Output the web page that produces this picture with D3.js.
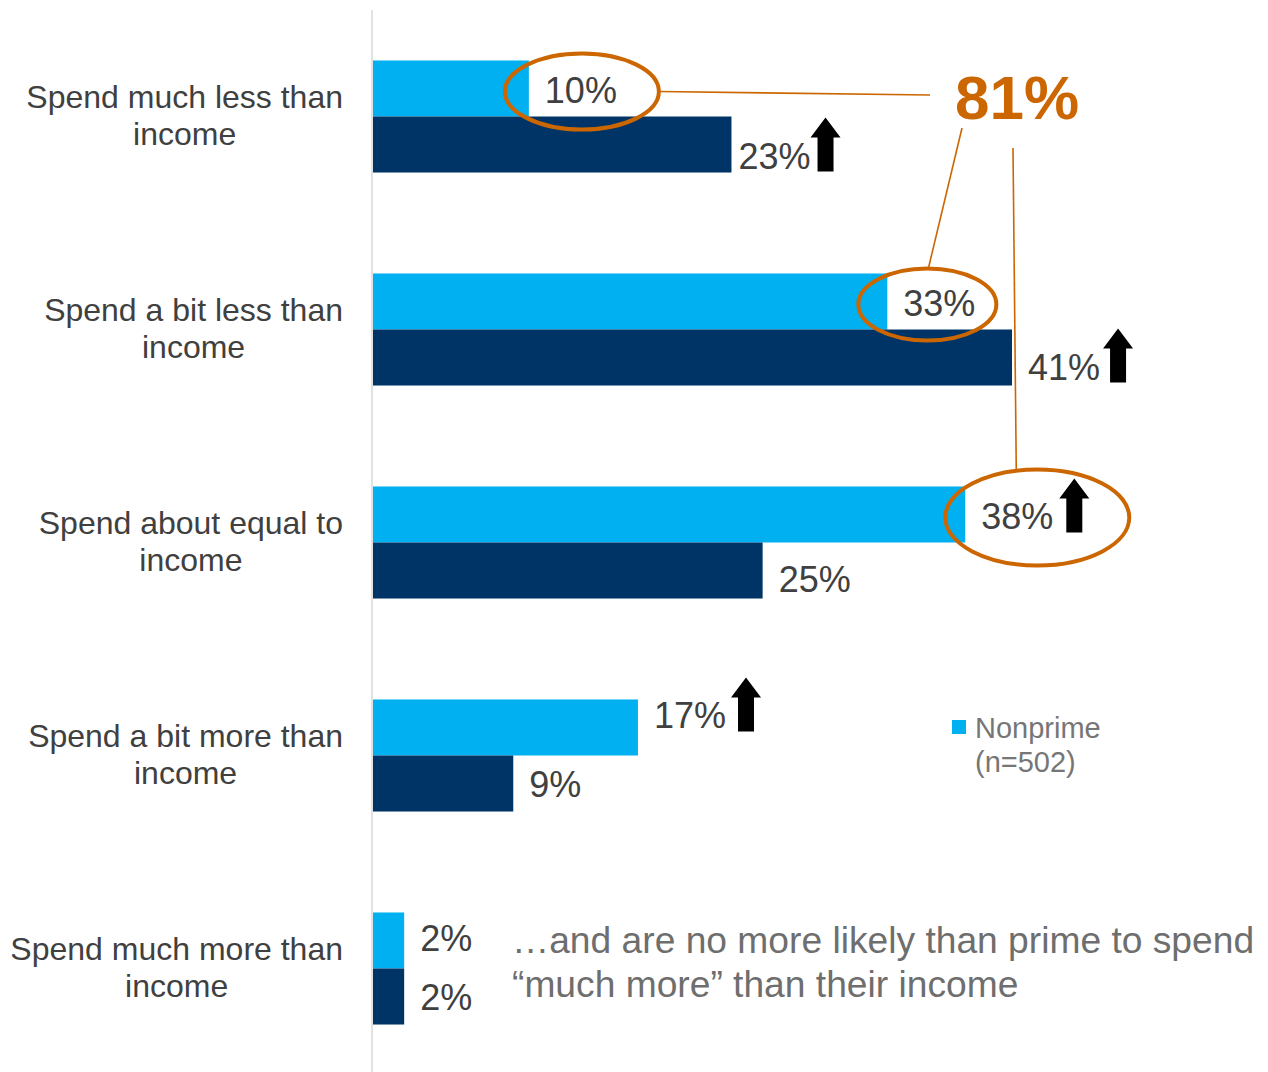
<!DOCTYPE html>
<html>
<head>
<meta charset="utf-8">
<script src="https://cdn.jsdelivr.net/npm/d3@7"></script>
<style>
  body { margin: 0; background: #fff; }
  svg { display: block; font-family: Arial, "Liberation Sans", sans-serif; }
</style>
</head>
<body>
<div id="chart"></div>
<script>
// ---------- data ----------
var categories = [
  ["Spend much less than", "income"],
  ["Spend a bit less than", "income"],
  ["Spend about equal to", "income"],
  ["Spend a bit more than", "income"],
  ["Spend much more than", "income"]
];
var nonprime = [10, 33, 38, 17, 2];
var prime = [23, 41, 25, 9, 2];
var nonprimeUp = [false, false, true, true, false];
var primeUp = [true, true, false, false, false];
var legendLabel = ["Nonprime", "(n=502)"];
var bigNumber = "81%";
var noteLines = ["\u2026and are no more likely than prime to spend", "\u201cmuch more\u201d than their income"];

var W = 1268, H = 1072;
var colLight = "#00b0f0", colDark = "#003466", orange = "#cc6600", txt = "#404040";

var svg = d3.select("#chart").append("svg")
    .attr("width", W).attr("height", H);

var x = d3.scaleLinear().domain([0, 41]).range([373, 1012]);
var y = d3.scaleBand().domain(d3.range(categories.length))
    .range([10, 1075]).paddingInner(0.474).paddingOuter(0.237);
var ySub = d3.scaleBand().domain(["nonprime", "prime"]).range([0, y.bandwidth()]);

// axis line
svg.append("line")
    .attr("x1", x(0) - 1).attr("x2", x(0) - 1)
    .attr("y1", 10).attr("y2", H)
    .attr("stroke", "#d9d9d9").attr("stroke-width", 1.5);

// category labels (block right aligned, lines centered)
categories.forEach(function (lines, i) {
    var cy = y(i) + y.bandwidth() / 2;
    var g = svg.append("g");
    var t = g.selectAll("text").data(lines).enter().append("text")
        .attr("y", function (d, k) { return cy - 9 + k * 37; })
        .attr("font-size", 32).attr("fill", txt)
        .attr("text-anchor", "middle")
        .text(function (d) { return d; });
    var maxW = d3.max(t.nodes(), function (n) { return n.getComputedTextLength(); });
    t.attr("x", 343 - maxW / 2);
});

// bars
var series = [
  { key: "nonprime", values: nonprime, up: nonprimeUp, color: colLight },
  { key: "prime", values: prime, up: primeUp, color: colDark }
];
// small manual nudges of labels (dx, dy) per series / category
var nudge = {
  nonprime: [[0, 2], [0, 2], [0, 2], [0, -12], [0, -2]],
  prime: [[-9, 11], [0, 9], [0, 8], [0, 0], [0, 0]]
};
var arrowGap = { nonprime: [0, 0, 6, 5, 0], prime: [0, 3, 0, 0, 0] };

var labelNodes = {};
series.forEach(function (s) {
    svg.selectAll("rect." + s.key).data(s.values).enter().append("rect")
        .attr("class", s.key)
        .attr("x", x(0))
        .attr("y", function (d, i) { return y(i) + ySub(s.key); })
        .attr("width", function (d) { return x(d) - x(0); })
        .attr("height", ySub.bandwidth())
        .attr("fill", s.color);

    var lbl = svg.selectAll("text.v" + s.key).data(s.values).enter().append("text")
        .attr("class", "v" + s.key)
        .attr("x", function (d, i) { return x(d) + 16 + nudge[s.key][i][0]; })
        .attr("y", function (d, i) { return y(i) + ySub(s.key) + ySub.bandwidth() / 2 + 13 + nudge[s.key][i][1]; })
        .attr("font-size", 36).attr("fill", txt)
        .text(function (d) { return d + "%"; });
    labelNodes[s.key] = lbl.nodes();

    // up arrows
    lbl.each(function (d, i) {
        if (!s.up[i]) return;
        var bb = this.getBBox();
        var x0 = bb.x + bb.width + arrowGap[s.key][i];
        var yb = +d3.select(this).attr("y") + 3;
        var hw = 15, sw = 8, hh = 20, L = 54;
        var cx = x0 + hw;
        var pts = [[cx, yb - L], [cx + hw, yb - L + hh], [cx + sw, yb - L + hh], [cx + sw, yb],
                   [cx - sw, yb], [cx - sw, yb - L + hh], [cx - hw, yb - L + hh]];
        svg.append("path").attr("d", "M" + pts.join("L") + "Z").attr("fill", "#000");
    });
});

// highlighted labels (ellipses) + "81%" callout
var highlights = [
  { i: 0, dx: 1, rx: 77, ry: 38 },
  { i: 1, dx: -12, rx: 69, ry: 36 },
  { i: 2, dx: 2, rx: 92, ry: 48, withArrow: true }
];
var ells = highlights.map(function (h) {
    var bb = labelNodes.nonprime[h.i].getBBox();
    var w = h.withArrow ? bb.width + 36 : bb.width;
    var cx = bb.x + w / 2 + h.dx;
    var cy = y(h.i) + ySub("nonprime") + ySub.bandwidth() / 2 + 3;
    svg.append("ellipse")
        .attr("cx", cx).attr("cy", cy).attr("rx", h.rx).attr("ry", h.ry)
        .attr("fill", "none").attr("stroke", orange).attr("stroke-width", 4);
    return { cx: cx, cy: cy, rx: h.rx, ry: h.ry };
});

var big = svg.append("text")
    .attr("x", 955).attr("y", 119)
    .attr("font-size", 62).attr("font-weight", "bold").attr("fill", orange)
    .text(bigNumber);

var connectors = [
  [[ells[0].cx + ells[0].rx, ells[0].cy], [930, 95]],
  [[962, 128], [ells[1].cx + 1, ells[1].cy - ells[1].ry]],
  [[1013, 148], [ells[2].cx - 21, ells[2].cy - ells[2].ry + 1]]
];
connectors.forEach(function (c) {
    svg.append("line")
        .attr("x1", c[0][0]).attr("y1", c[0][1])
        .attr("x2", c[1][0]).attr("y2", c[1][1])
        .attr("stroke", orange).attr("stroke-width", 1.6);
});

// legend
svg.append("rect").attr("x", 952).attr("y", 720).attr("width", 14).attr("height", 14)
    .attr("fill", colLight);
svg.selectAll("text.legend").data(legendLabel).enter().append("text")
    .attr("class", "legend")
    .attr("x", 975).attr("y", function (d, k) { return 738 + k * 34; })
    .attr("font-size", 29).attr("fill", "#767676")
    .text(function (d) { return d; });

// note
svg.selectAll("text.note").data(noteLines).enter().append("text")
    .attr("class", "note")
    .attr("x", 512).attr("y", function (d, k) { return 953 + k * 44; })
    .attr("font-size", 37.2).attr("fill", "#6e6e6e")
    .text(function (d) { return d; });
</script>
</body>
</html>
